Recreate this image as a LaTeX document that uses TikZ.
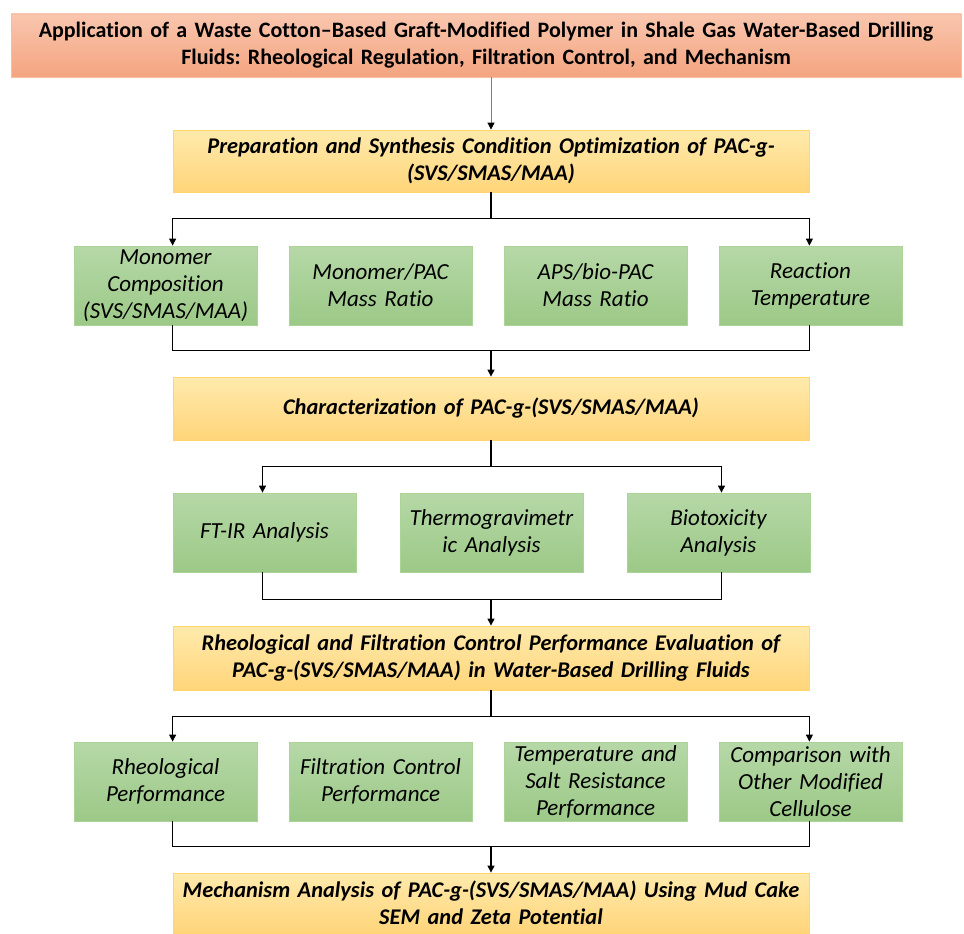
\documentclass[tikz,border=0pt]{standalone}
\usepackage{fontspec}
\setmainfont{Carlito}[RawFeature=-liga]
\frenchspacing
\usetikzlibrary{arrows.meta,calc}
\definecolor{tTop}{RGB}{249,198,174}
\definecolor{tBot}{RGB}{244,164,128}
\definecolor{tBrd}{RGB}{247,190,160}
\definecolor{oTop}{RGB}{255,234,172}
\definecolor{oBot}{RGB}{255,213,122}
\definecolor{oBrd}{RGB}{255,214,110}
\definecolor{gTop}{RGB}{182,216,167}
\definecolor{gBot}{RGB}{156,201,135}
\definecolor{gBrd}{RGB}{172,212,150}
\tikzset{
  titlebox/.style={draw=tBrd,line width=0.8pt,top color=tTop,bottom color=tBot,
    minimum width=950pt,minimum height=63pt,text width=940pt,align=center,
    font=\fontsize{22}{27}\selectfont\bfseries,inner sep=0pt},
  headbox/.style={draw=oBrd,line width=0.8pt,top color=oTop,bottom color=oBot,
    minimum width=636pt,minimum height=62pt,text width=630pt,align=center,
    font=\fontsize{22.4}{27}\selectfont\bfseries\itshape,inner sep=0pt},
  itembox/.style={draw=gBrd,line width=0.8pt,top color=gTop,bottom color=gBot,
    minimum width=183pt,minimum height=79pt,text width=181pt,align=center,
    font=\fontsize{23}{27}\selectfont\itshape,inner sep=0pt},
  conn/.style={line width=1.1pt,black},
  arr/.style={conn,-{Triangle[width=7pt,length=7pt]}},
}
\begin{document}
\begin{tikzpicture}[x=1pt,y=-1pt]
\useasboundingbox (0,0) rectangle (964,934);
\node[titlebox] (title) at (486,45.5) {Application of a Waste Cotton–Based Graft-Modified Polymer in Shale Gas Water-Based Drilling\\Fluids: Rheological Regulation, Filtration Control, and Mechanism};
\node[headbox] (prep) at (491,161) {Preparation and Synthesis Condition Optimization of PAC-g-\\(SVS/SMAS/MAA)};
\node[itembox] (m1) at (165.5,285.5) {Monomer\\Composition\\(SVS/SMAS/MAA)};
\node[itembox] (m2) at (380.5,285.5) {Monomer/PAC\\Mass Ratio};
\node[itembox] (m3) at (595.5,285.5) {APS/bio-PAC\\Mass Ratio};
\node[itembox] (m4) at (810.5,285.5) {Reaction\\Temperature};
\node[headbox,minimum height=63pt] (char) at (491,408.5) {Characterization of PAC-g-(SVS/SMAS/MAA)};
\node[itembox] (c1) at (264.5,532.5) {FT-IR Analysis};
\node[itembox] (c2) at (491.5,532.5) {Thermogravimetr\\ic Analysis};
\node[itembox] (c3) at (718.5,532.5) {Biotoxicity\\Analysis};
\node[headbox,minimum height=64pt] (rheo) at (491,658) {Rheological and Filtration Control Performance Evaluation of\\PAC-g-(SVS/SMAS/MAA) in Water-Based Drilling Fluids};
\node[itembox] (r1) at (165.5,781.5) {Rheological\\Performance};
\node[itembox] (r2) at (380.5,781.5) {Filtration Control\\Performance};
\node[itembox] (r3) at (595.5,781.5) {Temperature and\\Salt Resistance\\Performance};
\node[itembox] (r4) at (810.5,781.5) {Comparison with\\Other Modified\\Cellulose};
\node[headbox,minimum height=60pt] (mech) at (491,903) {Mechanism Analysis of PAC-g-(SVS/SMAS/MAA) Using Mud Cake\\SEM and Zeta Potential};
% title -> prep
\draw[line width=0.8pt,gray,-{Triangle[width=7pt,length=7pt,black]}] (title.south -| prep.north) -- (prep.north);
% prep -> row 1
\coordinate (j1) at ($(prep.south)+(0,26)$);
\draw[conn] (prep.south) -- (j1);
\draw[arr] (j1) -| (prep.west |- m1.north);
\draw[arr] (j1) -| (prep.east |- m4.north);
% row 1 -> char
\coordinate (j2) at ($(char.north)+(0,-26)$);
\draw[conn] (prep.west |- m1.south) |- (j2) -| (prep.east |- m4.south);
\draw[arr] (j2) -- (char.north);
% char -> row 2
\coordinate (j3) at ($(char.south)+(0,26)$);
\draw[conn] (char.south) -- (j3);
\draw[arr] (j3) -| ([xshift=-2pt]c1.north);
\draw[arr] (j3) -| ([xshift=3pt]c3.north);
% row 2 -> rheo
\coordinate (j4) at ($(rheo.north)+(0,-26)$);
\draw[conn] ([xshift=-2pt]c1.south) |- (j4) -| ([xshift=3pt]c3.south);
\draw[arr] (j4) -- (rheo.north);
% rheo -> row 3
\coordinate (j5) at ($(rheo.south)+(0,26)$);
\draw[conn] (rheo.south) -- (j5);
\draw[arr] (j5) -| (rheo.west |- r1.north);
\draw[arr] (j5) -| (rheo.east |- r4.north);
% row 3 -> mech
\coordinate (j6) at ($(mech.north)+(0,-26)$);
\draw[conn] (rheo.west |- r1.south) |- (j6) -| (rheo.east |- r4.south);
\draw[arr] (j6) -- (mech.north);
\end{tikzpicture}
\end{document}
